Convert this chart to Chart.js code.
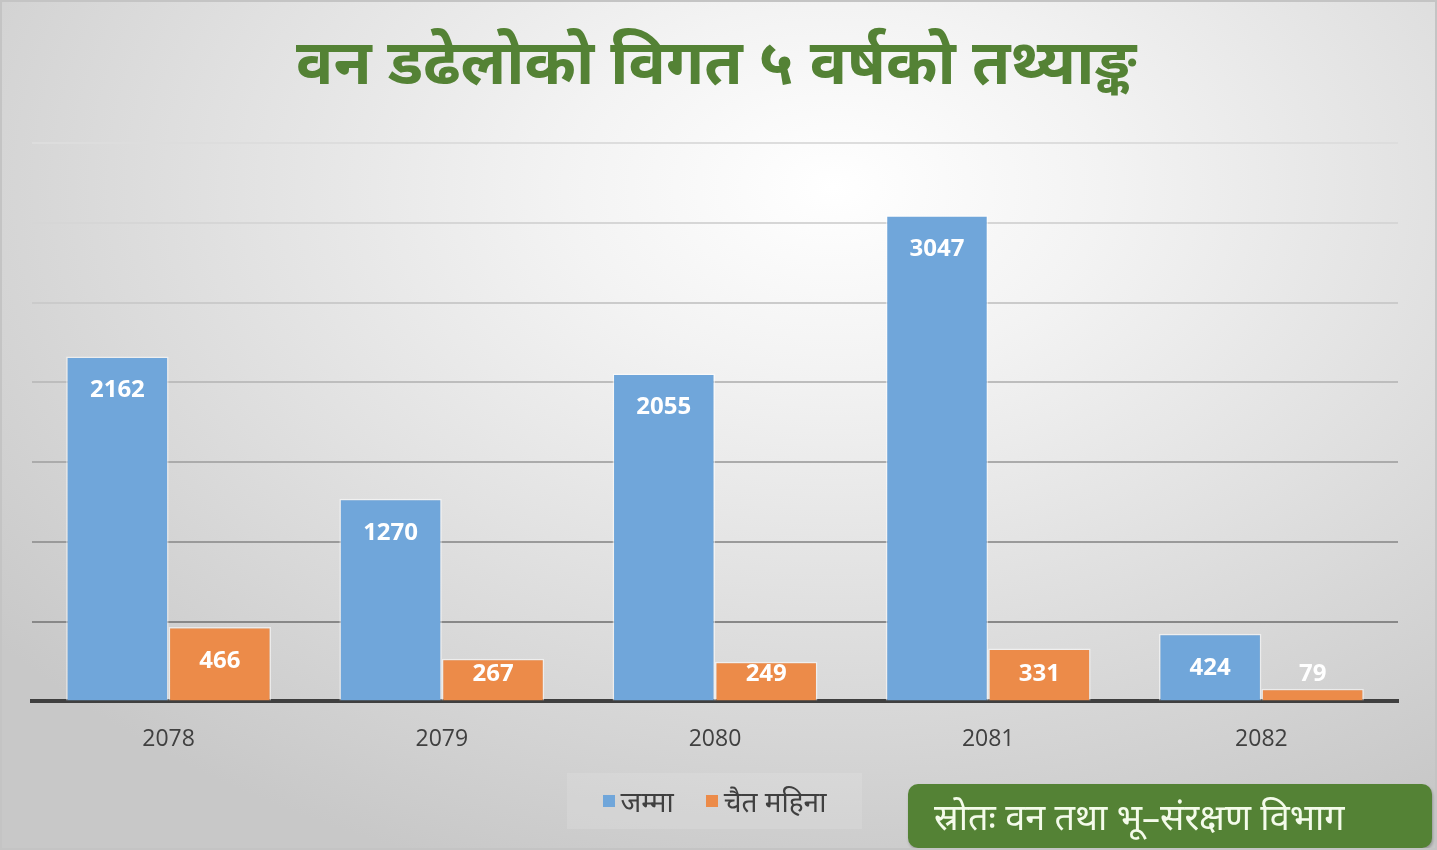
<!DOCTYPE html>
<html>
<head>
<meta charset="utf-8">
<script src="https://cdn.jsdelivr.net/npm/chart.js@4.4.1/dist/chart.umd.min.js"></script>
<style>
  html, body { margin: 0; padding: 0; }
  body { width: 1437px; height: 850px; overflow: hidden; }
  #wrap {
    position: relative; width: 1437px; height: 850px;
    background: radial-gradient(ellipse 75% 85% at 58% 22%, #ffffff 0%, #f3f3f3 25%, #e2e2e2 55%, #c8c8c8 100%);
  }
  #frame { position: absolute; left: 0; top: 0; width: 1437px; height: 850px; box-sizing: border-box; border: 2px solid #c4c4c4; pointer-events: none; }
  canvas { position: absolute; left: 0; top: 0; }
  #legend {
    position: absolute; left: 567px; top: 773px; width: 295px; height: 56px;
    background: rgba(255,255,255,0.12);
    font-family: "Noto Sans", "Noto Sans Devanagari", sans-serif; font-size: 28px; color: #404040;
    display: flex; align-items: center; justify-content: center;
  }
  #legend .item { display: flex; align-items: center; margin: 0 16px; }
  #legend .sw { width: 12px; height: 12px; margin-right: 6px; }
  #source {
    position: absolute; left: 908px; top: 784px; width: 524px; height: 64px;
    background: #548235; border-radius: 10px; box-sizing: border-box;
    font-family: "Noto Sans", "Noto Sans Devanagari", sans-serif; font-size: 36px; color: #f4fbea;
    padding-left: 26px; line-height: 66px; white-space: nowrap;
    box-shadow: 1px 2px 3px rgba(0,0,0,0.25);
  }
</style>
</head>
<body>
<div id="wrap">
  <canvas id="c" width="1437" height="850"></canvas>
  <div id="legend"></div>
  <div id="source">स्रोतः वन तथा भू–संरक्षण विभाग</div>
  <div id="frame"></div>
</div>
<script>
const TITLE = "वन डढेलोको विगत ५ वर्षको तथ्याङ्क";
const CATEGORIES = ["2078", "2079", "2080", "2081", "2082"];
const SERIES_NAMES = ["जम्मा", "चैत महिना"];
const TOTAL = [2162, 1270, 2055, 3047, 424];
const CHAITRA = [466, 267, 249, 331, 79];
const Y_MAX = 3500;
const Y_STEP = 500;
const COLORS = ["#70a6da", "#ec8b49"];

const gridColors = {500:"#888888",1000:"#9a9a9a",1500:"#ababab",2000:"#bdbdbd",2500:"#cbcbcb",3000:"#d6d6d6",3500:"#dddddd"};

const titlePlugin = {
  id: "titleDraw",
  afterDraw(chart) {
    const ctx = chart.ctx;
    ctx.save();
    ctx.font = "bold 62px 'Noto Sans', 'Noto Sans Devanagari', sans-serif";
    ctx.fillStyle = "#548235";
    ctx.textAlign = "center";
    ctx.textBaseline = "middle";
    ctx.fillText(TITLE, 716, 66);
    ctx.restore();
  }
};

const labelPlugin = {
  id: "barLabels",
  afterDatasetsDraw(chart) {
    const ctx = chart.ctx;
    const yBase = chart.scales.y.getPixelForValue(0);
    ctx.save();
    ctx.font = "bold 24px 'Open Sans', sans-serif";
    ctx.fillStyle = "#ffffff";
    ctx.textAlign = "center";
    ctx.textBaseline = "middle";
    chart.data.datasets.forEach((ds, di) => {
      const meta = chart.getDatasetMeta(di);
      meta.data.forEach((bar, i) => {
        const y = Math.min(bar.y + 34, yBase - 27);
        ctx.fillText(String(ds.data[i]), bar.x, y);
      });
    });
    ctx.restore();
  }
};

const chart = new Chart(document.getElementById("c"), {
  type: "bar",
  data: {
    labels: CATEGORIES,
    datasets: [
      { label: SERIES_NAMES[0], data: TOTAL, backgroundColor: COLORS[0], borderColor: "rgba(255,255,255,0.55)", borderWidth: 1.5, categoryPercentage: 0.75, barPercentage: 1.0 },
      { label: SERIES_NAMES[1], data: CHAITRA, backgroundColor: COLORS[1], borderColor: "rgba(255,255,255,0.55)", borderWidth: 1.5, categoryPercentage: 0.75, barPercentage: 1.0 }
    ]
  },
  options: {
    responsive: false,
    devicePixelRatio: 1,
    animation: false,
    layout: { padding: { top: 143, left: 32, right: 39, bottom: 73 } },
    plugins: { legend: { display: false }, title: { display: false }, tooltip: { enabled: false } },
    scales: {
      x: {
        grid: { display: false, drawTicks: false },
        border: { display: true, color: "#3f3f3f", width: 4 },
        ticks: { color: "#404040", padding: 24, font: { family: "'Open Sans', sans-serif", size: 23 } }
      },
      y: {
        min: 0, max: Y_MAX,
        ticks: { display: false, stepSize: Y_STEP },
        border: { display: false },
        grid: {
          drawTicks: false,
          lineWidth: 2,
          color: (c) => c.tick && c.tick.value === 0 ? "rgba(0,0,0,0)" : (gridColors[c.tick ? c.tick.value : 0] || "#bbbbbb")
        }
      }
    }
  },
  plugins: [titlePlugin, labelPlugin]
});

const legend = document.getElementById("legend");
SERIES_NAMES.forEach((n, i) => {
  const it = document.createElement("div");
  it.className = "item";
  const sw = document.createElement("div");
  sw.className = "sw";
  sw.style.background = COLORS[i];
  const tx = document.createElement("span");
  tx.textContent = n;
  it.appendChild(sw); it.appendChild(tx);
  legend.appendChild(it);
});
</script>
</body>
</html>
